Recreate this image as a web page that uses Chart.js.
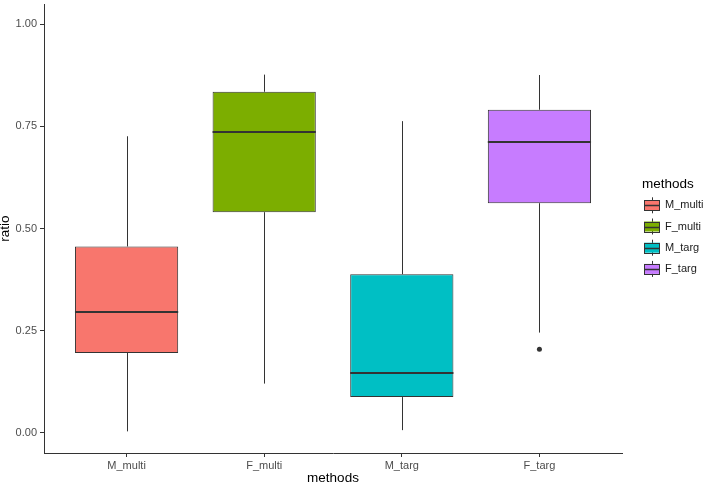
<!DOCTYPE html>
<html>
<head>
<meta charset="utf-8">
<script src="https://cdn.jsdelivr.net/npm/chart.js@4.4.0/dist/chart.umd.min.js"></script>
<style>
  html, body { margin: 0; padding: 0; background: #fff; }
</style>
</head>
<body>
<canvas id="boxChart" width="709" height="486"></canvas>
<script>
// ----------------------------
// Data
// ----------------------------
const methods = ['M_multi', 'F_multi', 'M_targ', 'F_targ'];
const fills = ['#F8766D', '#7CAE00', '#00BFC4', '#C77CFF'];
const whiskerLow = [0.003, 0.120, 0.006, 0.245];
const q1 = [0.195, 0.540, 0.087, 0.562];
const median = [0.296, 0.736, 0.145, 0.711];
const q3 = [0.456, 0.835, 0.388, 0.791];
const whiskerHigh = [0.726, 0.877, 0.763, 0.876];
const outlierMethod = ['F_targ'];
const outlierValue = [0.204];
const yTicks = [0, 0.25, 0.5, 0.75, 1.0];

const FONT = "'Liberation Sans', Arial, sans-serif";
const INK = '#333333';

// ----------------------------
// Whiskers + medians
// ----------------------------
const boxParts = {
  id: 'boxParts',
  beforeDatasetsDraw(chart) {
    const { ctx, scales: { x, y } } = chart;
    ctx.save();
    ctx.strokeStyle = INK;
    ctx.lineWidth = 1;
    methods.forEach((m, i) => {
      const px = Math.round(x.getPixelForValue(i + 1)) + 0.5;
      ctx.beginPath();
      ctx.moveTo(px, y.getPixelForValue(q3[i]));
      ctx.lineTo(px, y.getPixelForValue(whiskerHigh[i]));
      ctx.moveTo(px, y.getPixelForValue(q1[i]));
      ctx.lineTo(px, y.getPixelForValue(whiskerLow[i]));
      ctx.stroke();
    });
    ctx.restore();
  },
  afterDatasetsDraw(chart) {
    const { ctx, scales: { y } } = chart;
    const bars = chart.getDatasetMeta(0).data;
    ctx.save();
    ctx.strokeStyle = INK;
    ctx.lineWidth = 2;
    bars.forEach((bar, i) => {
      const py = Math.round(y.getPixelForValue(median[i]));
      ctx.beginPath();
      ctx.moveTo(bar.x - bar.width / 2, py);
      ctx.lineTo(bar.x + bar.width / 2, py);
      ctx.stroke();
    });
    ctx.restore();
  }
};

// ----------------------------
// ggplot style legend
// ----------------------------
const sideLegend = {
  id: 'sideLegend',
  afterDraw(chart) {
    const { ctx } = chart;
    ctx.save();
    ctx.textBaseline = 'middle';
    ctx.textAlign = 'left';
    ctx.fillStyle = '#000';
    ctx.font = `13.5px ${FONT}`;
    ctx.fillText('methods', 642, 184);

    ctx.font = `11px ${FONT}`;
    methods.forEach((m, i) => {
      const cy = 205.3 + i * 21.2;
      const left = 644, w = 16, h = 10;
      ctx.strokeStyle = INK;
      ctx.lineWidth = 1;
      ctx.beginPath();
      ctx.moveTo(652.5, cy - h / 2 - 3);
      ctx.lineTo(652.5, cy + h / 2 + 3);
      ctx.stroke();
      ctx.fillStyle = fills[i];
      ctx.fillRect(left, cy - h / 2, w, h);
      ctx.strokeRect(left + 0.5, Math.round(cy - h / 2) + 0.5, w - 1, h);
      ctx.lineWidth = 1.5;
      ctx.beginPath();
      ctx.moveTo(left, Math.round(cy) + 0.5);
      ctx.lineTo(left + w, Math.round(cy) + 0.5);
      ctx.stroke();
      ctx.fillStyle = '#1a1a1a';
      ctx.fillText(m, 665, cy);
    });
    ctx.restore();
  }
};

const noEdgePadding = scale => {
  scale.paddingTop = 0;
  scale.paddingBottom = 0;
  scale.paddingLeft = 0;
  scale.paddingRight = 0;
};

new Chart(document.getElementById('boxChart'), {
  type: 'bar',
  data: {
    datasets: [
      {
        label: 'box',
        data: methods.map((m, i) => ({ x: i + 1, y: [q1[i], q3[i]] })),
        backgroundColor: fills,
        borderColor: INK,
        borderWidth: 1,
        borderSkipped: false,
        barPercentage: 0.75,
        categoryPercentage: 1
      },
      {
        type: 'scatter',
        label: 'outliers',
        data: outlierMethod.map((m, i) => ({ x: methods.indexOf(m) + 1, y: outlierValue[i] })),
        pointRadius: 2.5,
        pointBackgroundColor: INK,
        pointBorderWidth: 0
      }
    ]
  },
  options: {
    responsive: false,
    animation: false,
    layout: { padding: { left: 0, top: 0, right: 87, bottom: 0 } },
    plugins: {
      legend: { display: false },
      tooltip: { enabled: false }
    },
    scales: {
      x: {
        type: 'linear',
        min: 0.4,
        max: 4.6,
        offset: false,
        afterBuildTicks: s => { s.ticks = methods.map((m, i) => ({ value: i + 1 })); },
        afterFit: s => { s.height = 33; noEdgePadding(s); },
        grid: { offset: false, drawOnChartArea: false, drawTicks: true, tickLength: 4, color: INK },
        border: { display: true, color: INK, width: 1 },
        ticks: {
          color: '#4d4d4d',
          font: { family: FONT, size: 11 },
          padding: 2,
          maxRotation: 0,
          autoSkip: false,
          callback: v => methods[Math.round(v) - 1]
        },
        title: {
          display: true,
          text: 'methods',
          color: '#000',
          font: { family: FONT, size: 13.5 },
          padding: { top: 0, bottom: 0 }
        }
      },
      y: {
        min: -0.05,
        max: 1.05,
        afterBuildTicks: s => { s.ticks = yTicks.map(v => ({ value: v })); },
        afterFit: s => { s.width = 44; noEdgePadding(s); },
        grid: { drawOnChartArea: false, drawTicks: true, tickLength: 4, color: INK },
        border: { display: true, color: INK, width: 1 },
        ticks: {
          color: '#4d4d4d',
          font: { family: FONT, size: 11 },
          padding: 3,
          callback: v => v.toFixed(2)
        },
        title: {
          display: true,
          text: 'ratio',
          color: '#000',
          font: { family: FONT, size: 13.5 },
          padding: { top: -3, bottom: 3 }
        }
      }
    }
  },
  plugins: [boxParts, sideLegend]
});
</script>
</body>
</html>
